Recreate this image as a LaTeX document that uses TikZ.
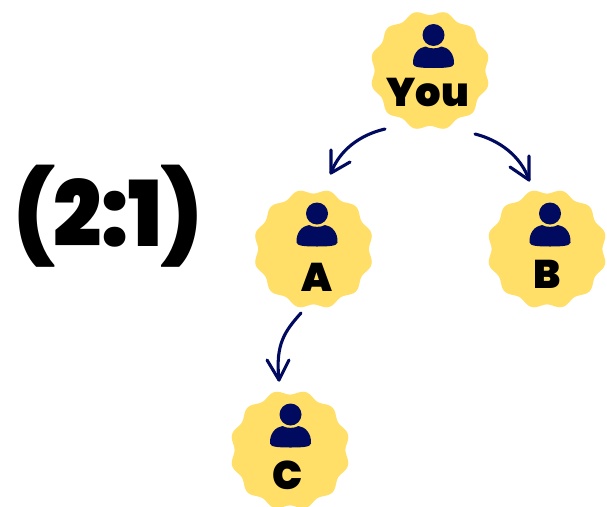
\documentclass[tikz,border=0pt]{standalone}
\usepackage{fontspec}
\usetikzlibrary{calc}
\newfontfamily\popblack{Poppins}[UprightFont=* Black]
\definecolor{badgeyellow}{HTML}{FFDF68}
\definecolor{navyink}{HTML}{000A5E}
\tikzset{
  badgelabel/.style={font=\popblack\fontsize{#1}{#1}\selectfont, text=black, inner sep=0pt, anchor=base},
  linkstroke/.style={draw=navyink, line width=3.1pt, line cap=round, line join=round},
}
% #1 name, #2 cx, #3 cy, #4 icon dx
\newcommand\badgeicon[4]{%
  \coordinate (#1) at (#2,#3);
  \fill[badgeyellow] plot[domain=0:360, samples=145, smooth] ({#2+(57.7+2.3*cos(12*(\x-15)))*cos(\x)},{#3+(57.7+2.3*cos(12*(\x-15)))*sin(\x)}) -- cycle;
  \begin{scope}[shift={(#2+#4,#3-35.5)}]
    \fill[navyink] (-20.5,29) .. controls (-21,19) and (-15,12.5) .. (-8,11.5)
      .. controls (-4,14) and (4,14) .. (8,11.5)
      .. controls (15,12.5) and (21,19) .. (20.5,29)
      .. controls (20,32.5) and (12,33) .. (0,33)
      .. controls (-12,33) and (-20,32.5) .. (-20.5,29) -- cycle;
    \fill[navyink] (0,0) circle (11);
  \end{scope}
}
\begin{document}
\begin{tikzpicture}[x=1pt,y=-1pt]
\useasboundingbox (0,0) rectangle (607,506);
\fill[white] (0,0) rectangle (607,506);
\badgeicon{youc}{430}{70.5}{3.5}
\badgeicon{ac}{313.5}{249}{3.5}
\badgeicon{bc}{547}{249}{3}
\badgeicon{cc}{290}{450}{0.5}
\node[badgelabel=40] (you) at (428,106.5) {You};
\node[badgelabel=40] (a) at (316.5,291) {A};
\node[badgelabel=40] (b) at (547.5,288) {B};
\node[badgelabel=40] (c) at (287.5,489.5) {C};
\node[badgelabel=85, yscale=1.07] (ratio) at (108,246) {(2:1)};
% arrows: free ends are named relative to their badges
\coordinate (s1) at ($(youc)+(-45,58.5)$);
\coordinate (t1) at ($(ac)+(17.5,-76)$);
\coordinate (s2) at ($(youc)+(45,63.5)$);
\coordinate (t2) at ($(bc)+(-18,-69)$);
\coordinate (s3) at ($(ac)+(-12.5,64)$);
\coordinate (t3) at ($(cc)+(-11,-70)$);
\draw[linkstroke] (s1) .. controls ($(s1)+(-26,6)$) and ($(t1)+(8,-22)$) .. (t1);
\draw[linkstroke] ($(t1)+(0,-23)$) -- (t1) -- ($(t1)+(19,-11)$);
\draw[linkstroke] (s2) .. controls ($(s2)+(24,6)$) and ($(t2)+(-8,-24)$) .. (t2);
\draw[linkstroke] ($(t2)+(0,-24)$) -- (t2) -- ($(t2)+(-19,-13)$);
\draw[linkstroke] (s3) .. controls ($(s3)+(-16,18)$) and ($(t3)+(-4,-36)$) .. (t3);
\draw[linkstroke] ($(t3)+(-12,-20)$) -- (t3) -- ($(t3)+(10,-20)$);
\end{tikzpicture}
\end{document}
